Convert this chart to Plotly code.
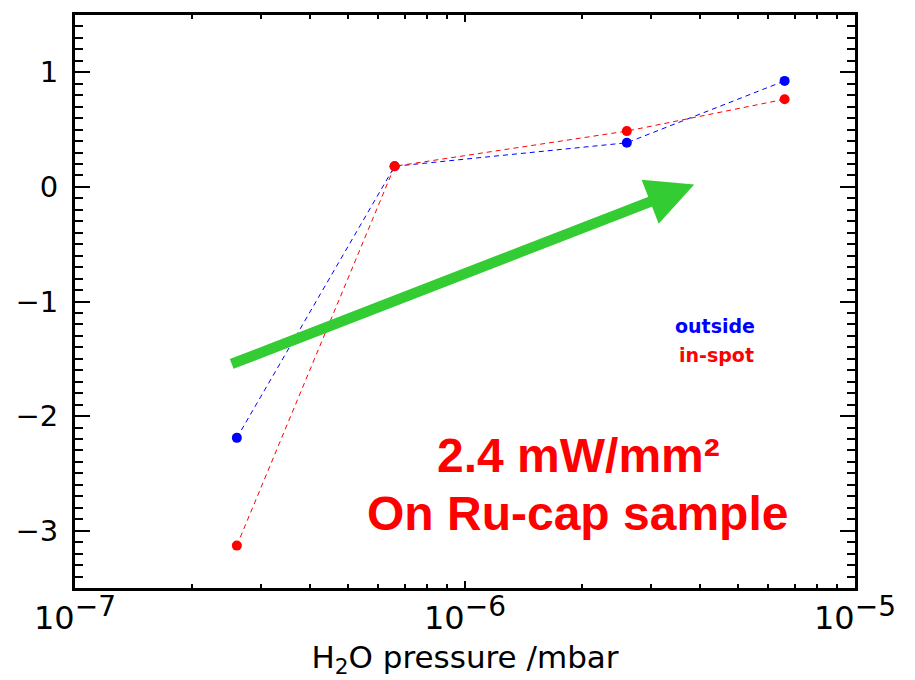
import numpy as np
import plotly.graph_objects as go

# Data
pressure = [2.6e-7, 6.6e-7, 2.6e-6, 6.6e-6]
outside = [-2.19, 0.18, 0.385, 0.925]
in_spot = [-3.13, 0.18, 0.487, 0.765]

x_tickvals = [1e-7, 1e-6, 1e-5]
x_ticktext = ["10<sup><span style='font-size:28px'>−7</span></sup>",
              "10<sup><span style='font-size:28px'>−6</span></sup>",
              "10<sup><span style='font-size:28px'>−5</span></sup>"]
y_tickvals = [-3, -2, -1, 0, 1]

arrow_start = (2.5e-7, -1.55)
arrow_end = (3.87e-6, 0.02)

fig = go.Figure()
fig.add_trace(go.Scatter(x=pressure, y=outside, mode="lines+markers",
                         line=dict(color="blue", width=1, dash="5px,4px"),
                         marker=dict(color="blue", size=10), name="outside"))
fig.add_trace(go.Scatter(x=pressure, y=in_spot, mode="lines+markers",
                         line=dict(color="red", width=1, dash="5px,4px"),
                         marker=dict(color="red", size=10), name="in-spot"))

fig.add_annotation(x=np.log10(arrow_end[0]), y=arrow_end[1],
                   ax=np.log10(arrow_start[0]), ay=arrow_start[1],
                   xref="x", yref="y", axref="x", ayref="y",
                   text="", showarrow=True, arrowhead=2, arrowsize=0.9,
                   arrowwidth=10.5, arrowcolor="#33cc33", standoff=0)

fig.add_annotation(x=0.82, y=0.458, xref="paper", yref="paper",
                   xanchor="center", yanchor="middle",
                   text="outside", showarrow=False,
                   font=dict(family="DejaVu Sans", size=19, color="blue", weight="bold"))
fig.add_annotation(x=0.823, y=0.406, xref="paper", yref="paper",
                   xanchor="center", yanchor="middle",
                   text="in-spot", showarrow=False,
                   font=dict(family="DejaVu Sans", size=19, color="red", weight="bold"))

fig.add_annotation(x=0.645, y=0.182, xref="paper", yref="paper",
                   xanchor="center", yanchor="bottom",
                   text="2.4 mW/mm²", showarrow=False,
                   font=dict(family="Liberation Sans", size=48, color="red", weight="bold"))
fig.add_annotation(x=0.644, y=0.081, xref="paper", yref="paper",
                   xanchor="center", yanchor="bottom",
                   text="On Ru-cap sample", showarrow=False,
                   font=dict(family="Liberation Sans", size=48, color="red", weight="bold"))

fig.update_xaxes(type="log", range=[-7, -5],
                 tickvals=x_tickvals, ticktext=x_ticktext,
                 ticks="inside", ticklen=7, tickwidth=2, tickcolor="black",
                 minor=dict(ticks="inside", ticklen=4, tickwidth=2, tickcolor="black",
                            tickvals=[k * 10**e for e in (-7, -6) for k in range(2, 10)]),
                 showline=True, linewidth=3, linecolor="black", mirror="allticks",
                 showgrid=False, zeroline=False,
                 tickfont=dict(family="DejaVu Sans", size=32, color="black"),
                 title=dict(text="H<sub>2</sub>O pressure /mbar",
                            font=dict(family="DejaVu Sans", size=31, color="black"),
                            standoff=10))
fig.update_yaxes(range=[-3.5, 1.5], tickvals=y_tickvals,
                 ticks="inside", ticklen=15, tickwidth=2, tickcolor="black",
                 minor=dict(ticks="inside", ticklen=8, tickwidth=2, tickcolor="black", dtick=0.1),
                 showline=True, linewidth=3, linecolor="black", mirror="allticks",
                 showgrid=False, zeroline=False, ticklabelstandoff=8,
                 tickfont=dict(family="DejaVu Sans", size=29, color="black"))

fig.update_layout(width=907, height=672, showlegend=False,
                  margin=dict(l=67, r=60, t=4, b=92),
                  plot_bgcolor="white", paper_bgcolor="white")

fig.write_html("out.html")
